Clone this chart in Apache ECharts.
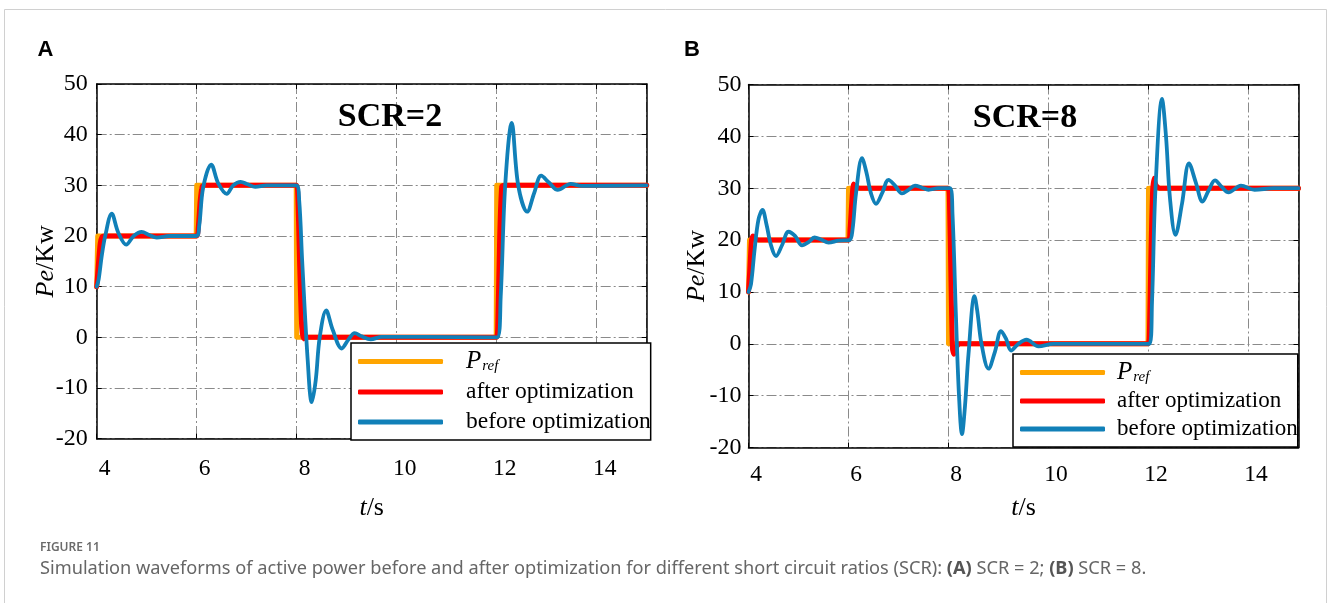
<!DOCTYPE html>
<html><head><meta charset="utf-8">
<script src="https://cdn.jsdelivr.net/npm/echarts@6/dist/echarts.min.js"></script>
<style>html,body{margin:0;padding:0;background:#fff}#c{width:1328px;height:603px}</style>
</head><body><div id="c"></div>
<script>
// ---------- data ----------
const legendNames = ['Pref', 'after optimization', 'before optimization'];
const xTicks = [4, 6, 8, 10, 12, 14];
const yTicks = [-20, -10, 0, 10, 20, 30, 40, 50];

// reference power (same for both panels)
const tPref = [4, 4.02, 5.99, 6.0, 7.99, 8.0, 11.99, 12.0, 15];
const vPref = [10, 20, 20, 30, 30, 0, 0, 30, 30];

// Panel A (SCR=2)
const tA_after = [4, 4.03, 4.07, 4.11, 4.16, 6.0, 6.03, 6.07, 6.11, 6.16, 7.99, 8.02, 8.06, 8.1, 8.14, 8.2, 11.99, 12.02, 12.06, 12.1, 12.15, 15];
const vA_after = [10, 14, 18.5, 19.9, 20, 20, 21.5, 27, 29.8, 30, 30, 28.5, 14, 2, -0.3, 0, 0, 2, 20, 29.8, 30, 30];
const tA_before = [4.0, 4.04, 4.1, 4.17, 4.3, 4.43, 4.59, 4.74, 4.9, 5.05, 5.2, 5.45, 5.99, 6.05, 6.13, 6.29, 6.43, 6.6, 6.73, 6.88, 7.02, 7.17, 7.4, 7.99, 8.05, 8.11, 8.22, 8.3, 8.38, 8.46, 8.59, 8.72, 8.9, 9.03, 9.16, 9.3, 9.48, 9.7, 12.01, 12.08, 12.17, 12.3, 12.43, 12.61, 12.75, 12.89, 13.05, 13.22, 13.48, 13.7, 15];
const vA_before = [10, 11.5, 16, 20, 24.4, 20.7, 18.3, 20, 20.8, 20.2, 19.7, 20, 20, 22, 29.6, 34.1, 30.4, 28.3, 30, 30.7, 30.2, 29.7, 30, 30, 27, 15, -4.5, -12.8, -8.5, 0, 5.3, 1.5, -2.2, -0.5, 0.85, 0.2, -0.4, 0.1, 0, 8, 30, 42.3, 30, 24.8, 28.5, 31.9, 30.5, 29.1, 30.3, 29.9, 30];

// Panel B (SCR=8)
const tB_after = [4, 4.03, 4.06, 4.09, 4.14, 4.2, 6.0, 6.03, 6.07, 6.1, 6.14, 6.22, 7.99, 8.02, 8.05, 8.08, 8.11, 8.16, 8.22, 11.99, 12.02, 12.05, 12.08, 12.11, 12.15, 12.22, 15];
const vB_after = [10, 15, 20, 20.8, 20.3, 20, 20, 22, 28, 30.8, 30.4, 30, 30, 27, 12, -1, -2, -0.6, 0, 0, 3, 18, 29, 31.9, 30.6, 30, 30];
const tB_before = [4.0, 4.05, 4.12, 4.2, 4.28, 4.36, 4.45, 4.55, 4.67, 4.8, 4.93, 5.07, 5.2, 5.32, 5.45, 5.6, 5.8, 6.02, 6.08, 6.15, 6.27, 6.36, 6.45, 6.55, 6.67, 6.8, 6.93, 7.07, 7.2, 7.33, 7.47, 7.6, 7.8, 8.03, 8.08, 8.15, 8.21, 8.27, 8.33, 8.4, 8.52, 8.58, 8.66, 8.8, 8.93, 9.05, 9.15, 9.25, 9.4, 9.56, 9.8, 10.1, 12.02, 12.07, 12.14, 12.27, 12.35, 12.43, 12.54, 12.67, 12.81, 12.95, 13.08, 13.2, 13.33, 13.47, 13.6, 13.85, 14.12, 14.5, 15];
const vB_before = [10, 11.5, 18, 24, 25.8, 23, 19, 16.9, 19, 21.6, 20.8, 19.0, 19.6, 20.5, 20.1, 19.5, 19.9, 20, 22, 29, 35.8, 33, 29, 27.0, 29, 31.6, 30.5, 29.0, 29.7, 30.5, 30.1, 29.7, 30, 30, 25, 5, -10, -17.4, -12, -2, 9.2, 6, 0, -4.8, -1.5, 2.45, 1, -1.3, 0, 0.8, -0.5, 0, 0, 8, 30, 47.2, 40, 28, 21, 27, 34.8, 31, 27.4, 29.5, 31.5, 30.2, 29.2, 30.5, 29.7, 30, 30];

// ---------- chart ----------
const serif = 'Liberation Serif';
const pair = (t, v) => t.map((x, i) => [x, v[i]]);
const COL = { pref: '#FFA500', after: '#FF0000', before: '#1180B8' };

function xAxisBottom(grid, margin, gap, pad) {
  return {
    type: 'value', gridIndex: grid, min: xTicks[0], max: 15, interval: xTicks[1] - xTicks[0], position: 'bottom',
    axisLine: { show: true, onZero: false, lineStyle: { color: '#000', width: 1.5 } },
    axisTick: { show: true, inside: true, length: 5, lineStyle: { color: '#000' } },
    axisLabel: { color: '#000', fontFamily: serif, fontSize: 23.5, margin: margin, showMaxLabel: false, padding: [0, 0, 0, pad] },
    splitLine: { show: true, lineStyle: { color: '#8a8a8a', width: 1, type: [10, 3, 2, 3] } },
    name: '{i|t}{n|/s}', nameLocation: 'middle', nameGap: gap, nameMoveOverlap: false,
    nameTextStyle: { color: '#000', fontFamily: serif, fontSize: 26,
      rich: { i: { fontStyle: 'italic', fontFamily: serif, fontSize: 26, color: '#000' }, n: { fontFamily: serif, fontSize: 26, color: '#000' } } }
  };
}
function xAxisTop(grid) {
  return {
    type: 'value', gridIndex: grid, min: xTicks[0], max: 15, interval: xTicks[1] - xTicks[0], position: 'top',
    axisLine: { show: true, onZero: false, lineStyle: { color: '#000', width: 1.5 } },
    axisTick: { show: true, inside: true, length: 5, lineStyle: { color: '#000' } },
    axisLabel: { show: false }, splitLine: { show: false }
  };
}
function yAxisLeft(grid, margin, gap) {
  return {
    type: 'value', gridIndex: grid, min: yTicks[0], max: yTicks[yTicks.length - 1], interval: yTicks[1] - yTicks[0], position: 'left',
    axisLine: { show: true, onZero: false, lineStyle: { color: '#000', width: 1.5 } },
    axisTick: { show: true, inside: true, length: 5, lineStyle: { color: '#000' } },
    axisLabel: { color: '#000', fontFamily: serif, fontSize: 24, margin: margin },
    splitLine: { show: true, lineStyle: { color: '#8a8a8a', width: 1, type: [10, 3, 2, 3] } },
    name: '{i|Pe}{n|/Kw}', nameLocation: 'middle', nameGap: gap, nameRotate: 90, nameMoveOverlap: false,
    nameTextStyle: { color: '#000', fontFamily: serif, fontSize: 26,
      rich: { i: { fontStyle: 'italic', fontFamily: serif, fontSize: 26, color: '#000' }, n: { fontFamily: serif, fontSize: 26, color: '#000' } } }
  };
}
function yAxisRight(grid) {
  return {
    type: 'value', gridIndex: grid, min: yTicks[0], max: yTicks[yTicks.length - 1], interval: yTicks[1] - yTicks[0], position: 'right',
    axisLine: { show: true, onZero: false, lineStyle: { color: '#000', width: 1.5 } },
    axisTick: { show: true, inside: true, length: 5, lineStyle: { color: '#000' } },
    axisLabel: { show: false }, splitLine: { show: false }
  };
}
function legend(left, top, gapW, itemGap, pad, fs) {
  return {
    orient: 'vertical', left: left, top: top, itemWidth: 85, itemHeight: 5, itemGap: itemGap, icon: 'roundRect',
    padding: pad, backgroundColor: '#fff', borderColor: '#000', borderWidth: 1.5, borderRadius: 0,
    data: legendNames, selectedMode: false,
    formatter: n => n === legendNames[0] ? '{g|}{p|P}{s|ref}' : '{g|}{t|' + n + '}',
    textStyle: { fontFamily: serif, fontSize: fs, color: '#000', lineHeight: 24,
      rich: { g: { width: gapW }, p: { fontStyle: 'italic', fontSize: 25, fontFamily: serif, color: '#000' },
        s: { fontStyle: 'italic', fontSize: 15, fontFamily: serif, color: '#000', padding: [10, 0, 0, 1] },
        t: { fontFamily: serif, fontSize: fs, color: '#000' } } }
  };
}
function lineSeries(name, data, xi, yi, color, width, smooth, z) {
  return { type: 'line', name: name, data: data, xAxisIndex: xi, yAxisIndex: yi, showSymbol: false, symbol: 'none',
    smooth: smooth, color: color, lineStyle: { color: color, width: width, cap: 'round', join: 'round' }, z: z, animation: false };
}

const option = {
  animation: false,
  backgroundColor: '#fff',
  grid: [
    { left: 96.7, top: 84, width: 550, height: 354.7 },
    { left: 748.5, top: 84.5, width: 550, height: 363 }
  ],
  xAxis: [xAxisBottom(0, 18, 56, 16), xAxisTop(0), xAxisBottom(1, 15, 48, 15), xAxisTop(1)],
  yAxis: [yAxisLeft(0, 9, 38), yAxisRight(0), yAxisLeft(1, 7, 38), yAxisRight(1)],
  legend: [legend(351, 343, 18, 6, [6, 0, 6, 7], 23.5), legend(1013, 354, 7, 4, [6, 0, 6, 7], 23)],
  series: [
    lineSeries(legendNames[0], pair(tPref, vPref), 0, 0, COL.pref, 5, false, 2),
    lineSeries(legendNames[1], pair(tA_after, vA_after), 0, 0, COL.after, 5, 0.2, 3),
    lineSeries(legendNames[2], pair(tA_before, vA_before), 0, 0, COL.before, 3.8, 0.35, 4),
    lineSeries(legendNames[0], pair(tPref, vPref), 2, 2, COL.pref, 5, false, 2),
    lineSeries(legendNames[1], pair(tB_after, vB_after), 2, 2, COL.after, 5, 0.2, 3),
    lineSeries(legendNames[2], pair(tB_before, vB_before), 2, 2, COL.before, 3.8, 0.35, 4)
  ],
  graphic: [
    { type: 'rect', silent: true, z: -10, shape: { x: 4.5, y: 9.5, width: 1322, height: 700 }, style: { fill: 'none', stroke: '#d0d0d0', lineWidth: 1 } },
    { type: 'text', x: 45.5, y: 50, style: { text: 'A', font: 'bold 22px "Liberation Sans"', fill: '#000', align: 'center', verticalAlign: 'middle' } },
    { type: 'text', x: 692, y: 50, style: { text: 'B', font: 'bold 22px "Liberation Sans"', fill: '#000', align: 'center', verticalAlign: 'middle' } },
    { type: 'text', x: 390, y: 117, z: 10, style: { text: 'SCR=2', font: 'bold 34px "Liberation Serif"', fill: '#000', align: 'center', verticalAlign: 'middle' } },
    { type: 'text', x: 1025, y: 118, z: 10, style: { text: 'SCR=8', font: 'bold 34px "Liberation Serif"', fill: '#000', align: 'center', verticalAlign: 'middle' } },
    { type: 'text', x: 40, y: 548, style: { text: 'FIGURE 11', font: '600 12px "Noto Sans"', fill: '#6b6b6b', align: 'left', verticalAlign: 'middle' } },
    { type: 'text', x: 40, y: 569, style: { text: 'Simulation waveforms of active power before and after optimization for different short circuit ratios (SCR): {b|(A)} SCR = 2; {b|(B)} SCR = 8.',
      font: '18.2px "Noto Sans"', fill: '#666', align: 'left', verticalAlign: 'middle',
      rich: { b: { fontWeight: 'bold', fontFamily: 'Noto Sans', fontSize: 18.2, fill: '#555' } } } }
  ]
};
const chart = echarts.init(document.getElementById('c'), null, { renderer: 'canvas' });
chart.setOption(option);
</script></body></html>
